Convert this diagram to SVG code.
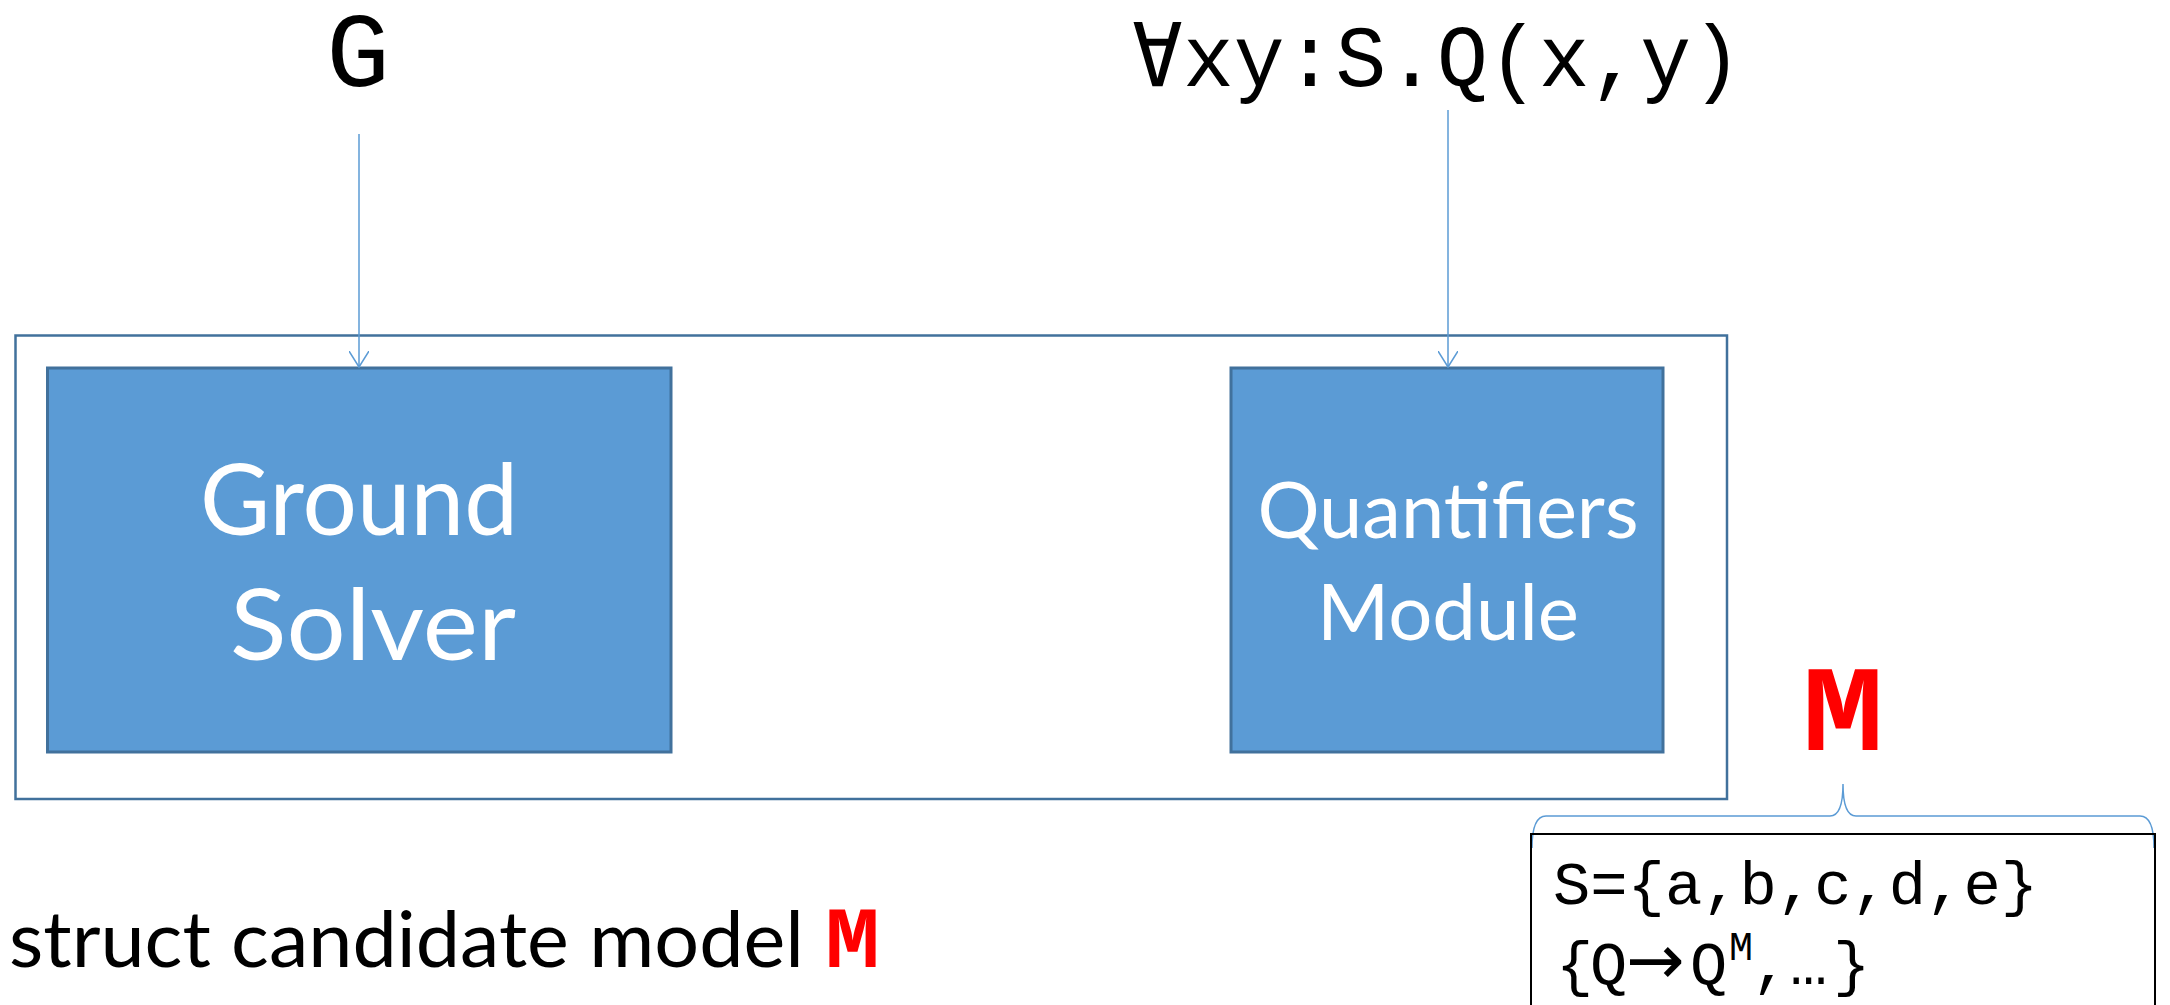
<svg xmlns="http://www.w3.org/2000/svg" width="2170" height="1005" viewBox="0 0 2170 1005">
<style>
.mono{font-family:"Liberation Mono","DejaVu Sans Mono",monospace;fill:#000}
.box{fill:#5B9BD5;stroke:#41719C;stroke-width:3}
.lbl{font-family:Lato,"Open Sans","Liberation Sans",sans-serif;fill:#fff}
.conn{stroke:#5B9BD5;stroke-width:1.5;fill:none}
.red{font-family:"Liberation Mono","DejaVu Sans Mono",monospace;font-weight:bold;fill:#FF0000}
</style>
<defs>
<marker id="vee" markerUnits="userSpaceOnUse" markerWidth="24" markerHeight="20" refX="16" refY="10" orient="auto">
<path d="M0,0 L16,10 L0,20" fill="none" stroke="#5B9BD5" stroke-width="1.5"/>
</marker>
</defs>
<rect width="2170" height="1005" fill="#fff"/>
<text class="mono" x="358" y="86" font-size="106" text-anchor="middle">G</text>
<text class="mono" x="1132" y="86" font-size="88" textLength="610" lengthAdjust="spacingAndGlyphs">∀xy:S.Q(x,y)</text>
<g id="container">
<rect x="15.5" y="335.5" width="1711.5" height="463.5" fill="none" stroke="#41719C" stroke-width="2.5"/>
</g>
<g id="ground-solver">
<rect class="box" x="47.5" y="368" width="623.5" height="384"/>
<text class="lbl" x="359" y="535" font-size="98" text-anchor="middle" textLength="318" lengthAdjust="spacingAndGlyphs">Ground</text>
<text class="lbl" x="373" y="660" font-size="98" text-anchor="middle" textLength="286" lengthAdjust="spacingAndGlyphs">Solver</text>
</g>
<g id="quantifiers-module">
<rect class="box" x="1231" y="368" width="432" height="384"/>
<text class="lbl" x="1448" y="538" font-size="78" text-anchor="middle" textLength="381" lengthAdjust="spacingAndGlyphs">Quantifiers</text>
<text class="lbl" x="1448" y="640" font-size="78" text-anchor="middle" textLength="262" lengthAdjust="spacingAndGlyphs">Module</text>
</g>
<g id="connectors">
<line class="conn" x1="359" y1="134" x2="359" y2="367" marker-end="url(#vee)"/>
<line class="conn" x1="1448" y1="110" x2="1448" y2="367" marker-end="url(#vee)"/>
<path class="conn" d="M1532,848 Q1532,816 1546,816 L1830,816 Q1843,816 1843,784 Q1843,816 1856,816 L2140,816 Q2154,816 2154,848"/>
</g>
<g id="model-label">
<text class="red" x="1802" y="750" font-size="122" textLength="82" lengthAdjust="spacingAndGlyphs">M</text>
</g>
<g id="model-box">
<rect x="1531" y="834" width="624" height="220" fill="none" stroke="#000" stroke-width="2"/>
<text class="mono" x="1553" y="904" font-size="62" textLength="485" lengthAdjust="spacingAndGlyphs">S={a,b,c,d,e}</text>
<text class="mono" y="984" font-size="62"><tspan x="1556">{</tspan><tspan x="1590">Q</tspan><tspan x="1626" font-family="DejaVu Sans,sans-serif" font-size="70">→</tspan><tspan x="1690">Q</tspan><tspan x="1729" y="960" font-size="40">M</tspan><tspan x="1752" y="984">,</tspan><tspan x="1790">…</tspan><tspan x="1833">}</tspan></text>
</g>
<g id="caption">
<text x="9" y="967" font-family="Lato,'Open Sans','Liberation Sans',sans-serif" font-size="78" fill="#000" textLength="795" lengthAdjust="spacingAndGlyphs">struct candidate model</text>
<text class="red" x="825" y="967" font-size="88" textLength="55" lengthAdjust="spacingAndGlyphs">M</text>
</g>
</svg>
